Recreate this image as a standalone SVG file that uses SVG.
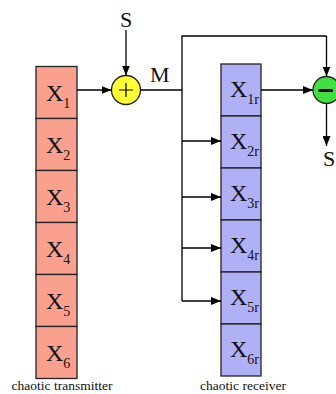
<svg xmlns="http://www.w3.org/2000/svg" width="336" height="394" viewBox="0 0 336 394">
  <defs>
    <marker id="arrow" markerWidth="10" markerHeight="8" refX="10" refY="4" orient="auto" markerUnits="userSpaceOnUse">
      <path d="M0,0 L10,4 L0,8 Z" fill="#000"/>
    </marker>
    <style>
      .tx { fill: #F9A08F; stroke: #222; stroke-width: 1.3; }
      .rx { fill: #B0B0F7; stroke: #222; stroke-width: 1.3; }
      .lbl { font-family: "Liberation Serif", "Times New Roman", serif; fill: #111; }
      .x { font-size: 24px; }
      .sub { font-size: 14px; }
      .cap { font-size: 13.5px; text-anchor: middle; }
      .big { font-size: 22px; }
      .wire { fill: none; stroke: #000; stroke-width: 1.3; }
      .arr { marker-end: url(#arrow); }
    </style>
  </defs>
  <rect width="336" height="394" fill="#fff"/>

  <!-- transmitter state cells -->
  <g id="transmitter">
    <g id="x1"><rect class="tx" x="36" y="66.5" width="41" height="52"/><text class="lbl x" x="46" y="101">X<tspan class="sub" dy="7">1</tspan></text></g>
    <g id="x2"><rect class="tx" x="36" y="118.5" width="41" height="52"/><text class="lbl x" x="46" y="153">X<tspan class="sub" dy="7">2</tspan></text></g>
    <g id="x3"><rect class="tx" x="36" y="170.5" width="41" height="52"/><text class="lbl x" x="46" y="205">X<tspan class="sub" dy="7">3</tspan></text></g>
    <g id="x4"><rect class="tx" x="36" y="222.5" width="41" height="52"/><text class="lbl x" x="46" y="257">X<tspan class="sub" dy="7">4</tspan></text></g>
    <g id="x5"><rect class="tx" x="36" y="274.5" width="41" height="52"/><text class="lbl x" x="46" y="309">X<tspan class="sub" dy="7">5</tspan></text></g>
    <g id="x6"><rect class="tx" x="36" y="326.5" width="41" height="52"/><text class="lbl x" x="46" y="361">X<tspan class="sub" dy="7">6</tspan></text></g>
    <text class="lbl cap" x="62" y="390">chaotic transmitter</text>
  </g>

  <!-- receiver state cells -->
  <g id="receiver">
    <g id="x1r"><rect class="rx" x="221" y="64" width="40" height="52"/><text class="lbl x" x="230" y="97">X<tspan class="sub" dy="7">1r</tspan></text></g>
    <g id="x2r"><rect class="rx" x="221" y="116" width="40" height="52"/><text class="lbl x" x="230" y="149">X<tspan class="sub" dy="7">2r</tspan></text></g>
    <g id="x3r"><rect class="rx" x="221" y="168" width="40" height="52"/><text class="lbl x" x="230" y="201">X<tspan class="sub" dy="7">3r</tspan></text></g>
    <g id="x4r"><rect class="rx" x="221" y="220" width="40" height="52"/><text class="lbl x" x="230" y="253">X<tspan class="sub" dy="7">4r</tspan></text></g>
    <g id="x5r"><rect class="rx" x="221" y="272" width="40" height="52"/><text class="lbl x" x="230" y="305">X<tspan class="sub" dy="7">5r</tspan></text></g>
    <g id="x6r"><rect class="rx" x="221" y="324" width="40" height="52"/><text class="lbl x" x="230" y="357">X<tspan class="sub" dy="7">6r</tspan></text></g>
    <text class="lbl cap" x="243" y="390">chaotic receiver</text>
  </g>

  <!-- summing junction (adds message) -->
  <g id="adder">
    <circle cx="126" cy="90" r="14.5" fill="#FFFF33" stroke="#222" stroke-width="1.3"/>
    <path d="M119,90 H133 M126,83 V97" stroke="#000" stroke-width="1.2"/>
  </g>

  <!-- difference junction (recovers message) -->
  <g id="subtractor">
    <circle cx="326.5" cy="90" r="13.5" fill="#3FE03F" stroke="#222" stroke-width="1.3"/>
    <path d="M318.5,90.5 H333" stroke="#000" stroke-width="3"/>
  </g>

  <!-- signal labels -->
  <g id="labels">
    <text class="lbl big" x="126" y="27" text-anchor="middle">S</text>
    <text class="lbl big" x="150" y="82">M</text>
    <text class="lbl big" x="329" y="166" text-anchor="middle">S</text>
  </g>

  <!-- connectors -->
  <g id="connectors">
    <path class="wire arr" d="M126,30 V75.5"/>
    <path class="wire arr" d="M77,90 H111.5"/>
    <path class="wire" d="M140.5,90 H182"/>
    <path class="wire" d="M182,301 V36 H326.5"/>
    <path class="wire arr" d="M326.5,36 V76.5"/>
    <path class="wire arr" d="M261,90 H313"/>
    <path class="wire arr" d="M326.5,103.5 V146"/>
    <path class="wire arr" d="M182,141 H221"/>
    <path class="wire arr" d="M182,197 H221"/>
    <path class="wire arr" d="M182,248 H221"/>
    <path class="wire arr" d="M182,301 H221"/>
  </g>
</svg>
